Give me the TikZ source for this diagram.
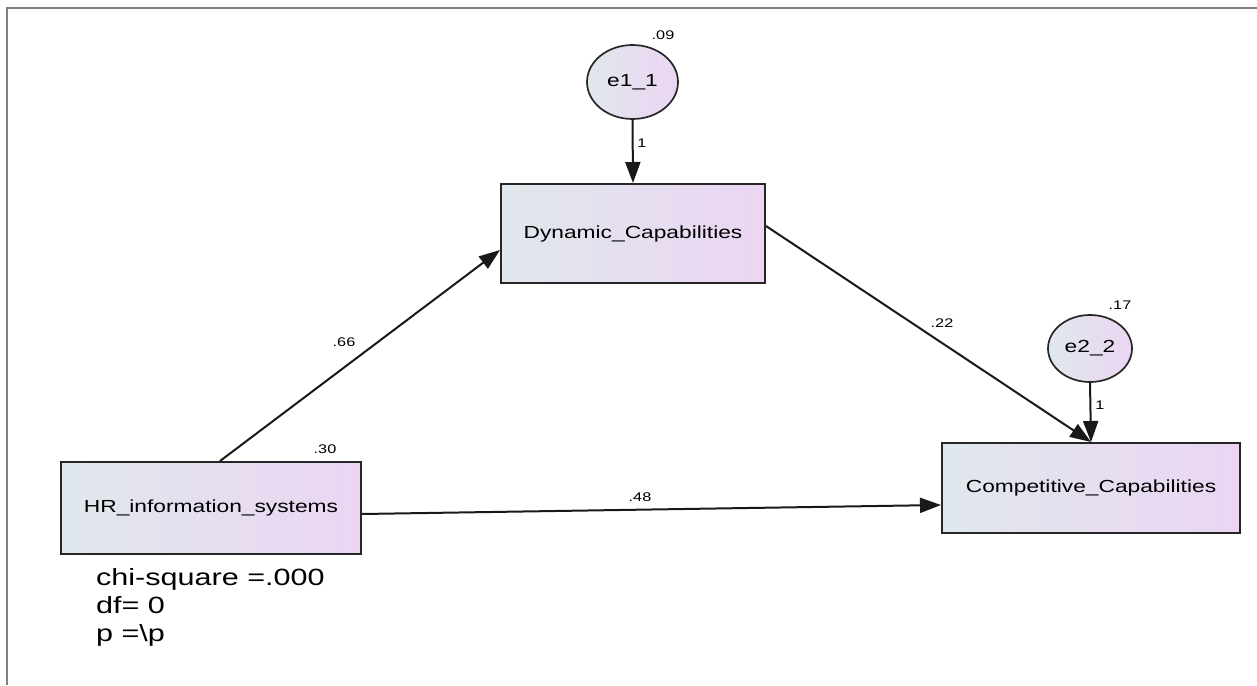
\documentclass[tikz,border=0pt]{standalone}
\usepackage{fontspec}
\setmainfont{Liberation Sans}[FakeStretch=1.3]
\usetikzlibrary{arrows.meta,shapes.geometric}
\definecolor{fillL}{RGB}{224,232,236}
\definecolor{fillR}{RGB}{235,213,243}
\definecolor{framegray}{RGB}{128,128,128}
\tikzset{
  obsbox/.style={draw=black!85, line width=2pt, left color=fillL, right color=fillR,
    inner sep=0pt, font=\fontsize{17.5}{20}\selectfont},
  errnode/.style={ellipse, draw=black!85, line width=1.7pt, left color=fillL, right color=fillR,
    inner sep=0pt, font=\fontsize{17.5}{20}\selectfont},
  path/.style={line width=2pt, black!90, -{Triangle[length=21pt,width=15pt]}},
  est/.style={font=\fontsize{12.5}{14}\selectfont, inner sep=0pt},
  fit/.style={font=\fontsize{23.5}{28}\selectfont, inner sep=0pt, anchor=base west}
}
\begin{document}
\begin{tikzpicture}[x=1pt,y=-1pt]
\useasboundingbox (0,0) rectangle (1257,685);
% frame
\draw[framegray, line width=1.5pt] (1257,8) -- (7,8) -- (7,685);

% observed variables
\node[obsbox, minimum width=264pt, minimum height=99pt] (dyn) at (633,233.5) {Dynamic\_Capabilities};
\node[obsbox, minimum width=300pt, minimum height=92pt] (hr) at (211,508) {HR\_information\_systems};
\node[obsbox, minimum width=298pt, minimum height=90pt] (comp) at (1091,488) {Competitive\_Capabilities};

% error terms
\node[errnode, minimum width=91pt, minimum height=74pt] (e1) at (632.5,82) {e1\_1};
\node[errnode, minimum width=84pt, minimum height=67pt] (e2) at (1090,348.5) {e2\_2};

% paths
\draw[path] (e1.south) -- (dyn.north);
\draw[path] (e2.south) -- (comp.north);
\draw[path] ([xshift=9pt]hr.north) -- ([yshift=-16.5pt]dyn.west);
\draw[path] ([yshift=7.5pt]dyn.east) -- (comp.north);
\draw[path] ([yshift=-6pt]hr.east) -- ([yshift=-17pt]comp.west);

% estimates
\node[est] (v1) at (663,35) {.09};
\node[est] (v2) at (1120,305) {.17};
\node[est] (v3) at (325,449) {.30};
\node[est] (w1) at (642,143) {1};
\node[est] (w2) at (1100,405) {1};
\node[est] (b1) at (344,342) {.66};
\node[est] (b2) at (942,323) {.22};
\node[est] (b3) at (640,497) {.48};

% fit statistics
\node[fit] (chi) at (96,585) {chi-square =.000};
\node[fit] (df) at (96,613) {df= 0};
\node[fit] (pv) at (96,641) {p =\textbackslash p};
\end{tikzpicture}
\end{document}
